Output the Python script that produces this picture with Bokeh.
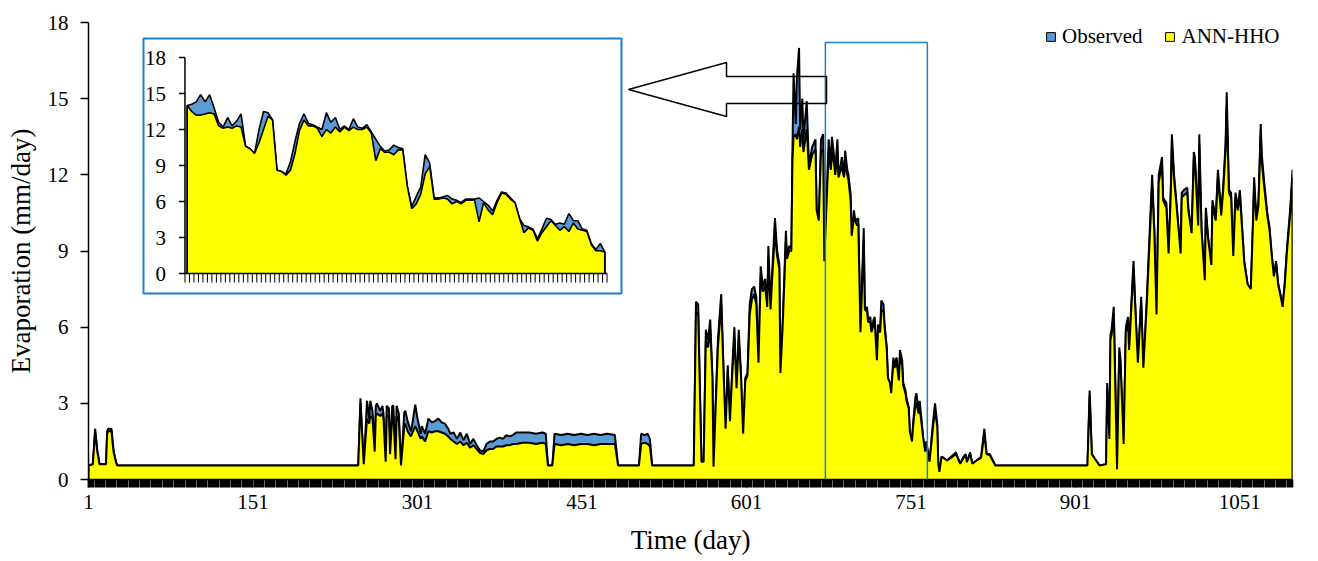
from bokeh.plotting import figure
from bokeh.models import Range1d, FixedTicker, Legend, LegendItem, BoxAnnotation, PolyAnnotation
from bokeh.core.properties import value
from bokeh.embed import file_html
from bokeh.resources import INLINE

# ---------------- data ----------------
days = [
    1, 5, 7, 8, 9, 10, 11, 17, 18, 19, 22, 23, 24, 26, 27,
    247, 249, 252, 255, 257, 258, 260, 262, 263, 264, 267, 269, 270, 272, 273, 275, 276, 278, 279, 281,
    282, 284, 286, 289, 290, 292, 295, 296, 299,
    301, 304, 305, 308, 311, 314, 317, 320, 323, 326, 329, 331, 334, 337, 340, 343, 346, 349, 352, 355,
    358, 361, 364, 367, 370, 373, 376, 379, 382, 385, 388, 391, 397, 403, 409, 415, 418,
    420, 424, 426, 432, 438, 444, 450, 456, 462, 468, 474, 481, 484, 503, 505, 508, 511, 513, 515, 553,
    555, 557, 560, 562, 564, 566, 568, 570, 571, 573, 575, 578, 580, 582, 584, 586, 588, 590, 592, 594,
    596, 598, 600, 602, 604, 606, 608, 610, 612, 614, 616, 618, 620, 621, 623, 625, 627, 629, 631, 632,
    634, 635, 637, 638, 640, 642, 643, 644, 646, 647, 649, 650, 652, 653, 656, 658, 661, 664, 665, 667,
    669, 671, 672,
    676, 678, 679, 681, 682, 684, 685, 687, 688, 690, 691, 693, 694, 696, 697, 699, 700, 702, 703, 705,
    706, 708, 709, 711, 712, 714, 715, 717, 718, 720, 721, 723, 724, 726, 727, 729, 730, 732, 733, 735,
    736, 738, 740, 741, 743, 744, 746, 747, 749, 750, 752, 753, 755, 756, 758, 759, 761, 762, 764, 765,
    768, 771, 773, 775, 776, 777, 779,
    784, 789, 792, 796, 799, 801, 802, 805, 807, 811, 815, 818, 820, 823, 828, 912,
    914, 916, 919, 923, 929, 930, 932, 933, 934, 936, 939, 941, 942, 944, 945, 947, 949, 950, 954, 956,
    958, 961, 963, 966, 969, 971, 973, 975, 977, 980, 981, 984, 986, 988, 989, 991, 993, 997, 998, 1000,
    1003, 1004, 1007, 1009, 1010, 1013, 1014, 1016, 1019, 1020, 1022, 1025, 1026, 1029, 1031, 1034,
    1036, 1038, 1039, 1041, 1043, 1045, 1047, 1049, 1051, 1053, 1055, 1058, 1061, 1063, 1064, 1066,
    1068, 1070, 1071, 1073, 1076, 1078, 1080, 1082, 1084, 1086, 1088, 1090, 1092, 1094, 1097, 1099,
]

observed = [
    0.55, 0.6, 2.0, 1.6, 1.15, 0.9, 0.6, 0.6, 1.9, 2.0, 2.0, 1.5, 1.1, 0.7, 0.55,
    0.55, 3.2, 0.55, 3.1, 2.4, 3.1, 2.7, 1.2, 2.9, 3.0, 2.7, 2.9, 2.6, 0.7, 2.9, 2.8, 1.1, 2.9, 2.9, 0.9,
    2.9, 2.6, 0.55, 2.65, 2.7, 2.3, 1.9, 2.1, 2.95,
    2.4, 1.8, 2.1, 1.8, 2.4, 2.25, 2.3, 2.4, 2.25, 2.2, 2.0, 1.8, 1.85, 1.6, 1.85, 1.55, 1.8, 1.4, 1.6, 1.35,
    1.15, 1.1, 1.4, 1.5, 1.5, 1.6, 1.65, 1.6, 1.75, 1.7, 1.75, 1.85, 1.85, 1.85, 1.8, 1.85, 1.8,
    0.55, 0.55, 1.8, 1.75, 1.8, 1.75, 1.8, 1.75, 1.8, 1.75, 1.8, 1.75, 0.55, 0.55, 1.8, 1.75, 1.8, 1.6, 0.55, 0.55,
    7.0, 6.9, 0.6, 0.6, 5.9, 5.5, 6.3, 4.0, 0.4, 3.0, 5.5, 7.3, 4.5, 1.9, 4.5, 2.2, 4.3, 6.0, 3.5, 5.9,
    4.2, 1.6, 4.0, 4.2, 6.9, 7.5, 7.6, 7.2, 4.5, 8.4, 7.6, 7.9, 6.9, 9.2, 6.8, 8.6, 10.3, 9.0, 8.5, 3.9,
    6.0, 7.3, 9.8, 8.8, 9.2, 9.1, 13.0, 16.0, 14.0, 15.8, 17.0, 13.8, 15.0, 13.4, 14.9, 12.4, 13.1, 13.4, 10.7, 10.1,
    13.4, 13.6, 8.5,
    13.4, 12.4, 13.5, 12.7, 12.2, 13.4, 12.0, 12.4, 12.7, 12.0, 12.95, 12.2, 12.0, 11.25, 9.5, 10.6, 10.3, 10.2, 10.3, 5.6,
    7.2, 9.9, 6.6, 6.8, 6.3, 6.4, 5.9, 6.3, 6.4, 4.55, 6.1, 5.9, 7.05, 6.9, 6.1, 5.2, 4.0, 3.8, 3.4, 4.8,
    4.55, 4.8, 3.9, 5.1, 4.7, 3.8, 3.5, 3.2, 2.85, 1.8, 1.4, 2.2, 3.2, 3.4, 2.7, 3.1, 2.2, 1.7, 1.0, 1.5,
    0.7, 2.2, 3.0, 2.2, 0.55, 0.25, 0.9,
    0.75, 0.95, 1.07, 0.62, 0.9, 1.0, 0.68, 1.07, 0.62, 0.75, 0.9, 2.0, 1.0, 1.0, 0.55, 0.55,
    3.5, 1.0, 0.8, 0.55, 0.6, 3.8, 1.5, 5.7, 5.9, 6.8, 0.3, 5.2, 4.8, 2.6, 1.3, 6.0, 6.4, 5.2, 8.6, 6.5,
    4.5, 7.2, 4.3, 7.0, 10.0, 12.0, 9.9, 6.4, 12.0, 12.7, 11.1, 10.9, 8.9, 11.4, 13.6, 12.0, 11.0, 8.9, 11.3, 11.4,
    11.5, 10.7, 9.7, 12.9, 12.7, 10.05, 13.6, 9.9, 7.8, 10.7, 9.55, 8.4, 11.0, 10.3, 12.2, 10.5,
    11.65, 13.3, 15.25, 11.4, 11.3, 8.75, 11.3, 10.7, 11.4, 9.95, 8.6, 7.7, 7.45, 10.3, 11.9, 10.3,
    11.0, 14.0, 12.8, 11.8, 10.5, 9.95, 8.9, 8.0, 8.6, 7.7, 7.3, 6.8, 7.8, 9.15, 10.7, 12.2,
]

ann_hho = [
    0.55, 0.6, 1.9, 1.5, 1.1, 0.85, 0.6, 0.6, 1.8, 1.9, 1.9, 1.4, 1.05, 0.7, 0.55,
    0.55, 3.0, 0.6, 2.4, 2.2, 2.5, 2.4, 1.1, 2.5, 2.6, 2.5, 2.6, 2.4, 0.7, 2.5, 2.5, 1.0, 2.5, 2.5, 0.8,
    2.5, 2.3, 0.55, 2.1, 2.2, 1.9, 1.7, 1.8, 2.1,
    1.9, 1.6, 1.7, 1.5, 1.9, 1.85, 1.9, 1.9, 1.85, 1.8, 1.7, 1.6, 1.5, 1.4, 1.5, 1.35, 1.45, 1.25, 1.35, 1.2,
    1.05, 1.0, 1.15, 1.2, 1.2, 1.3, 1.3, 1.3, 1.35, 1.35, 1.4, 1.4, 1.45, 1.45, 1.4, 1.45, 1.4,
    0.55, 0.55, 1.4, 1.35, 1.4, 1.35, 1.4, 1.4, 1.35, 1.4, 1.4, 1.4, 0.55, 0.55, 1.4, 1.45, 1.4, 1.3, 0.55, 0.55,
    6.6, 6.5, 0.7, 0.7, 5.5, 5.2, 5.9, 4.0, 0.5, 2.9, 5.2, 6.9, 4.4, 2.0, 4.3, 2.3, 4.1, 5.6, 3.6, 5.5,
    4.1, 1.8, 3.9, 4.1, 6.5, 7.1, 7.3, 6.9, 4.6, 8.0, 7.4, 7.6, 6.8, 8.7, 6.7, 8.3, 9.7, 8.8, 8.3, 4.2,
    6.0, 7.1, 9.4, 8.7, 9.0, 9.0, 12.6, 13.5, 13.6, 13.4, 13.9, 13.1, 13.8, 12.9, 13.8, 12.2, 12.8, 13.0, 10.6, 10.2,
    12.9, 13.0, 8.6,
    12.9, 12.2, 12.9, 12.4, 12.0, 12.7, 11.9, 12.2, 12.3, 11.9, 12.4, 12.0, 11.8, 11.0, 9.6, 10.3, 10.2, 10.0, 10.1, 5.8,
    7.0, 9.4, 6.7, 6.6, 6.2, 6.2, 5.8, 6.1, 6.2, 4.7, 5.9, 5.8, 6.7, 6.6, 6.0, 5.1, 4.0, 3.8, 3.4, 4.6,
    4.4, 4.6, 3.9, 4.8, 4.5, 3.7, 3.4, 3.1, 2.8, 1.9, 1.5, 2.1, 2.9, 3.0, 2.6, 2.8, 2.1, 1.7, 1.1, 1.4,
    0.7, 2.0, 2.7, 2.1, 0.6, 0.3, 0.9,
    0.75, 0.9, 1.0, 0.62, 0.85, 0.95, 0.68, 1.0, 0.62, 0.75, 0.85, 1.8, 1.0, 0.95, 0.55, 0.55,
    3.3, 1.0, 0.8, 0.55, 0.6, 3.6, 1.6, 5.5, 5.7, 6.5, 0.4, 5.0, 4.7, 2.6, 1.4, 5.8, 6.2, 5.1, 8.3, 6.4,
    4.6, 7.0, 4.4, 6.8, 9.7, 11.6, 9.7, 6.5, 11.7, 12.4, 11.0, 10.7, 8.9, 11.2, 13.2, 11.8, 10.9, 8.9, 11.1, 11.2,
    11.3, 10.6, 9.7, 12.6, 12.5, 10.0, 13.2, 9.85, 7.85, 10.5, 9.5, 8.45, 10.8, 10.2, 11.9, 10.4,
    11.5, 13.0, 14.7, 11.3, 11.1, 8.8, 11.1, 10.6, 11.2, 9.9, 8.55, 7.7, 7.5, 10.1, 11.6, 10.2,
    10.8, 13.6, 12.5, 11.6, 10.4, 9.85, 8.85, 8.0, 8.5, 7.65, 7.25, 6.8, 7.7, 9.0, 10.5, 11.9,
]

# enlarged window (inset): one value per day
inset_observed = [
    14.0, 14.1, 14.3, 14.9, 14.3, 14.9, 13.8, 12.6, 12.2, 13.0,
    12.3, 12.7, 13.3, 10.6, 10.4, 10.0, 12.0, 13.5, 13.4, 12.8,
    8.6, 8.5, 8.3, 9.3, 11.0, 12.5, 13.3, 12.5, 12.4, 12.2,
    12.0, 13.4, 12.6, 13.0, 12.0, 12.3, 12.0, 12.9, 12.2, 12.1,
    12.4, 11.8, 11.2, 10.6, 10.2, 10.3, 10.7, 10.5, 10.4, 7.3,
    5.6, 6.4, 7.2, 9.9, 9.2, 6.3, 6.3, 6.4, 6.5, 6.2,
    6.1, 5.9, 6.2, 6.2, 6.2, 6.3, 6.0, 5.7, 5.2, 6.1,
    6.8, 6.7, 6.3, 5.9, 4.6, 4.0, 3.9, 3.7, 2.9, 3.7,
    4.6, 4.5, 4.1, 4.2, 4.1, 5.0, 4.4, 4.4, 3.7, 3.6,
    2.5, 2.0, 2.5, 1.8,
]
inset_ann_hho = [
    14.0, 13.5, 13.2, 13.2, 13.3, 13.4, 13.3, 12.3, 12.1, 12.2,
    12.1, 12.3, 12.2, 10.6, 10.4, 10.0, 10.9, 12.0, 13.1, 12.8,
    8.6, 8.5, 8.2, 8.6, 10.0, 11.9, 12.8, 12.3, 12.3, 12.1,
    11.4, 12.0, 11.7, 12.2, 11.8, 12.2, 11.9, 12.2, 12.0, 12.0,
    12.2, 11.7, 9.4, 10.4, 10.1, 10.1, 9.9, 10.3, 10.3, 7.3,
    5.4, 5.8, 6.6, 8.3, 8.9, 6.2, 6.2, 6.3, 6.2, 5.8,
    6.0, 5.8, 6.1, 6.1, 6.1, 4.3, 5.9, 5.3, 4.9, 5.9,
    6.7, 6.6, 6.2, 5.9, 4.6, 3.4, 3.8, 3.6, 2.7, 3.4,
    3.9, 4.4, 4.0, 3.6, 3.9, 3.5, 4.2, 3.7, 3.6, 3.5,
    2.4, 1.9, 1.9, 1.8,
]
inset_days = list(range(1, len(inset_observed) + 1))

x_ticks = [1, 151, 301, 451, 601, 751, 901, 1051]
y_ticks = [0, 3, 6, 9, 12, 15, 18]
inset_y_ticks = [0, 3, 6, 9, 12, 15, 18]
zoom_window = [673, 766]          # days enlarged in the inset
series_labels = ["Observed", "ANN-HHO"]

assert len(days) == len(observed) == len(ann_hho)
assert len(inset_observed) == len(inset_ann_hho)

# ---------------- styling / layout ----------------
OBS_COLOR = "#5B9BD5"
PRED_COLOR = "#FFFF00"
BOX_BLUE = "#1E7FC8"
FONT = "Liberation Serif"

W, H = 1318, 561
FL, FR, FT, FB = 88, 1292, 22, 479
YMAX = 18

p = figure(width=W, height=H, x_range=Range1d(days[0], days[-1]), y_range=Range1d(0, YMAX),
           output_backend="svg", toolbar_location=None,
           min_border_left=FL, min_border_right=W - FR, min_border_top=FT, min_border_bottom=H - FB)
p.background_fill_color = "white"
p.border_fill_color = "white"
p.outline_line_color = None
p.grid.visible = False

px_per_day = (FR - FL) / (days[-1] - days[0])
px_per_unit = (FB - FT) / YMAX


def mx(px):
    return days[0] + (px - FL) / px_per_day


def my(py):
    return (FB - py) / px_per_unit


# main series
p.varea(x=days, y1=0, y2=observed, fill_color=OBS_COLOR)
p.line(x=[days[0]] + days + [days[-1]], y=[0] + observed + [0], line_color="black", line_width=2)
p.varea(x=days, y1=0, y2=ann_hho, fill_color=PRED_COLOR)
p.line(x=[days[0]] + days + [days[-1]], y=[0] + ann_hho + [0], line_color="black", line_width=2)

# ---------------- inset (own scales mapped into a sub-rectangle) ----------------
n = len(inset_days)
IX0, IX1 = 186.7, 604.3      # screen x of first / last inset value
IY0, IYT = 273.0, 57.0       # screen y of inset 0 and 18
sx = (IX1 - IX0) / (n - 1)
sy = (IY0 - IYT) / YMAX
p.extra_x_ranges["ix"] = Range1d(1 - (IX0 - FL) / sx, 1 + (FR - IX0) / sx)
p.extra_y_ranges["iy"] = Range1d(-(FB - IY0) / sy, YMAX + (IYT - FT) / sy)


def ix(px):
    return 1 + (px - IX0) / sx


def iy(py):
    return (IY0 - py) / sy


R = dict(x_range_name="ix", y_range_name="iy")
p.quad(left=[ix(143)], right=[ix(621)], top=[iy(38)], bottom=[iy(293)],
       fill_color="white", line_color=BOX_BLUE, line_width=2, **R)
p.varea(x=inset_days, y1=0, y2=inset_observed, fill_color=OBS_COLOR, **R)
p.line(x=[inset_days[0]] + inset_days + [inset_days[-1]], y=[0] + inset_observed + [0],
       line_color="black", line_width=1.6, **R)
p.varea(x=inset_days, y1=0, y2=inset_ann_hho, fill_color=PRED_COLOR, **R)
p.line(x=[inset_days[0]] + inset_days + [inset_days[-1]], y=[0] + inset_ann_hho + [0],
       line_color="black", line_width=1.6, **R)

ax0 = inset_days[0] - 0.5
ax1 = inset_days[-1] + 0.5
p.segment(x0=[ax0], y0=[0], x1=[ax0], y1=[YMAX], line_color="black", line_width=1.5, **R)
p.segment(x0=[ax0], y0=[0], x1=[ax1], y1=[0], line_color="black", line_width=1.5, **R)
tx = [d - 0.5 for d in inset_days] + [ax1]
p.segment(x0=tx, y0=[0] * len(tx), x1=tx, y1=[-9 / sy] * len(tx), line_color="black", line_width=1, **R)
p.segment(x0=[ax0 - 6 / sx] * len(inset_y_ticks), y0=inset_y_ticks, x1=[ax0] * len(inset_y_ticks),
          y1=inset_y_ticks, line_color="black", line_width=1.5, **R)
p.text(x=[ax0 - 19 / sx] * len(inset_y_ticks), y=inset_y_ticks, text=[str(t) for t in inset_y_ticks],
       text_align="right", text_baseline="middle", text_font=value(FONT), text_font_size="21px",
       text_color="black", **R)

# zoom window box and arrow
p.add_layout(BoxAnnotation(left=zoom_window[0], right=zoom_window[1], bottom=my(491), top=my(42),
                           fill_color=None, fill_alpha=0, line_color=BOX_BLUE, line_alpha=1,
                           line_width=1.5))
arrow_px = [628, 726, 726, 826, 826, 726, 726]
arrow_py = [89, 62, 76, 76, 103, 103, 116]
p.add_layout(PolyAnnotation(xs=[mx(v) for v in arrow_px], ys=[my(v) for v in arrow_py],
                            fill_color=None, fill_alpha=0, line_color="black", line_alpha=1,
                            line_width=1.5))

# ---------------- axes ----------------
p.xaxis.ticker = FixedTicker(ticks=x_ticks, minor_ticks=list(range(days[0], days[-1] + 1)))
p.yaxis.ticker = FixedTicker(ticks=y_ticks)
for ax in (p.xaxis[0], p.yaxis[0]):
    ax.axis_line_color = "black"
    ax.axis_line_width = 1.5
    ax.major_tick_line_color = "black"
    ax.major_tick_line_width = 1.5
    ax.major_tick_in = 0
    ax.major_tick_out = 8
    ax.major_label_text_font = FONT
    ax.major_label_text_font_size = "21px"
    ax.major_label_text_color = "black"
    ax.axis_label_text_font = FONT
    ax.axis_label_text_font_size = "27px"
    ax.axis_label_text_font_style = "normal"
    ax.axis_label_text_color = "black"
p.xaxis.minor_tick_line_color = "black"
p.xaxis.minor_tick_line_width = 1.6
p.xaxis.minor_tick_in = 0
p.xaxis.minor_tick_out = 8
p.yaxis.minor_tick_line_color = None
p.xaxis.major_label_standoff = 7
p.yaxis.major_label_standoff = 12
p.xaxis.axis_label = "Time (day)"
p.yaxis.axis_label = "Evaporation (mm/day)"
p.xaxis.axis_label_standoff = 13
p.yaxis.axis_label_standoff = 9

# ---------------- legend ----------------
nan = float("nan")
leg_obs = p.quad(left=[nan], right=[nan], top=[nan], bottom=[nan],
                 fill_color=OBS_COLOR, line_color="black", line_width=1)
leg_pred = p.quad(left=[nan], right=[nan], top=[nan], bottom=[nan],
                  fill_color=PRED_COLOR, line_color="black", line_width=1)
legend = Legend(items=[LegendItem(label=series_labels[0], renderers=[leg_obs]),
                       LegendItem(label=series_labels[1], renderers=[leg_pred])],
                location=(957, 430), orientation="horizontal", padding=0, margin=0, spacing=22,
                label_standoff=6, glyph_width=11, glyph_height=11,
                label_text_font=FONT, label_text_font_size="21px", label_text_color="black",
                border_line_color=None, background_fill_alpha=0)
p.add_layout(legend)

open("out.html", "w").write(file_html(p, INLINE))
